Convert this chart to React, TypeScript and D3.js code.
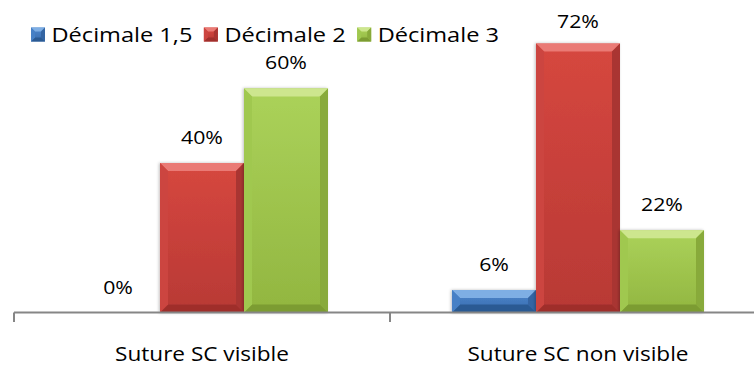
import React, { useEffect, useRef } from "react";
import * as d3 from "d3";

// Chart data
const categories = ["Suture SC visible", "Suture SC non visible"];
const seriesNames = ["Décimale 1,5", "Décimale 2", "Décimale 3"];
const decimale15 = [0, 0.06];
const decimale2 = [0.4, 0.72];
const decimale3 = [0.6, 0.22];
const seriesValues = [decimale15, decimale2, decimale3];

const W = 754;
const H = 369;
const FONT = "'Open Sans', 'DejaVu Sans', sans-serif";

type Shade = { body0: string; body1: string; top: string; bottom: string; left: string; right: string };

const shades: Shade[] = [
  { body0: "#4c86cc", body1: "#3a6daf", top: "#7eaee4", bottom: "#2b5a93", left: "#4680c6", right: "#3465a3" },
  { body0: "#d6473f", body1: "#b83935", top: "#ea7a74", bottom: "#9f2f2c", left: "#cc4540", right: "#a93431" },
  { body0: "#abd25a", body1: "#92b640", top: "#cde68e", bottom: "#7c9c32", left: "#a0c84f", right: "#88aa3a" },
];

function bevelBox(
  g: d3.Selection<SVGGElement, unknown, null, undefined>,
  x: number,
  y: number,
  w: number,
  h: number,
  s: Shade,
  gradId: string,
  bev: number
) {
  if (h <= 0 || w <= 0) return;
  const b = Math.min(bev, h / 2, w / 2);
  g.append("rect").attr("x", x).attr("y", y).attr("width", w).attr("height", h).attr("fill", `url(#${gradId})`);
  const poly = (pts: [number, number][], fill: string) =>
    g.append("path").attr("d", d3.line()(pts) + "Z").attr("fill", fill);
  poly([[x, y], [x + w, y], [x + w - b, y + b], [x + b, y + b]], s.top);
  poly([[x, y + h], [x + w, y + h], [x + w - b, y + h - b], [x + b, y + h - b]], s.bottom);
  poly([[x, y], [x + b, y + b], [x + b, y + h - b], [x, y + h]], s.left);
  poly([[x + w, y], [x + w - b, y + b], [x + w - b, y + h - b], [x + w, y + h]], s.right);
}

export default function App() {
  const ref = useRef<SVGSVGElement | null>(null);

  useEffect(() => {
    const svg = d3.select(ref.current as SVGSVGElement);
    svg.selectAll("*").remove();

    const defs = svg.append("defs");
    shades.forEach((s, i) => {
      const lg = defs
        .append("linearGradient")
        .attr("id", `body${i}`)
        .attr("x1", 0)
        .attr("y1", 0)
        .attr("x2", 0)
        .attr("y2", 1);
      lg.append("stop").attr("offset", "0%").attr("stop-color", s.body0);
      lg.append("stop").attr("offset", "100%").attr("stop-color", s.body1);
    });
    const shadow = defs.append("filter").attr("id", "barShadow").attr("x", "-10%").attr("width", "120%");
    shadow
      .append("feDropShadow")
      .attr("dx", -1)
      .attr("dy", 0)
      .attr("stdDeviation", 1.5)
      .attr("flood-color", "#000")
      .attr("flood-opacity", 0.25);

    const baseY = 312.5;
    const x0 = d3.scaleBand<string>().domain(categories).range([14, 766]).paddingInner(0).paddingOuter(0);
    const x1 = d3
      .scaleBand<string>()
      .domain(seriesNames)
      .range([0, x0.bandwidth()])
      .paddingInner(0)
      .paddingOuter(0.738);
    const y = d3.scaleLinear().domain([0, 0.8]).range([baseY, 13.7]);

    // Bars
    const bars = svg.append("g");
    categories.forEach((cat, ci) => {
      seriesNames.forEach((name, si) => {
        const v = seriesValues[si][ci];
        const bx = (x0(cat) as number) + (x1(name) as number);
        const top = y(v);
        const g = bars.append("g").attr("filter", "url(#barShadow)");
        bevelBox(g, bx, top, x1.bandwidth(), baseY - top, shades[si], `body${si}`, 8);
      });
    });

    // Axis line and ticks
    const axis = svg.append("g").attr("stroke", "#868686").attr("stroke-width", 2);
    axis.append("line").attr("x1", 14).attr("x2", W).attr("y1", baseY).attr("y2", baseY);
    const tickXs = categories.map((c) => x0(c) as number).concat([(x0(categories[1]) as number) + x0.bandwidth()]);
    tickXs.forEach((tx) => {
      axis.append("line").attr("x1", tx).attr("x2", tx).attr("y1", baseY).attr("y2", baseY + 9.5);
    });

    // Text with a slight horizontal stretch; returns the drawn width
    const stretchedText = (
      parent: any,
      tx: number,
      ty: number,
      text: string,
      size: number,
      sx: number,
      anchor: string
    ) => {
      const g = parent.append("g").attr("transform", `translate(${tx},${ty}) scale(${sx},1)`);
      const t = g
        .append("text")
        .attr("text-anchor", anchor)
        .attr("font-family", FONT)
        .attr("font-weight", 400)
        .attr("font-size", size)
        .attr("fill", "#000")
        .text(text);
      return (t.node() as SVGTextElement).getComputedTextLength() * sx;
    };

    // Data labels
    const fmt = d3.format(".0%");
    categories.forEach((cat, ci) => {
      seriesNames.forEach((name, si) => {
        const v = seriesValues[si][ci];
        const cx = (x0(cat) as number) + (x1(name) as number) + x1.bandwidth() / 2;
        const ly = Math.max(y(v) - 19, 28.3);
        stretchedText(svg, cx, ly, fmt(v), 19, 1.12, "middle");
      });
    });

    // Category labels
    categories.forEach((cat) => {
      const cx = (x0(cat) as number) + x0.bandwidth() / 2;
      stretchedText(svg, cx, 361, cat, 19.3, 1.17, "middle");
    });

    // Legend
    const legend = svg.append("g");
    let lx = 31;
    seriesNames.forEach((name, si) => {
      const g = legend.append("g");
      bevelBox(g, lx, 27.5, 14, 14, shades[si], `body${si}`, 4);
      const len = stretchedText(legend, lx + 20.5, 41.7, name, 19.5, 1.21, "start");
      lx = lx + 20.5 + len + 11.5;
    });
  }, []);

  return (
    <svg
      ref={ref}
      width={W}
      height={H}
      viewBox={`0 0 ${W} ${H}`}
      style={{ position: "absolute", left: 0, top: 0, background: "#fff" }}
    />
  );
}
